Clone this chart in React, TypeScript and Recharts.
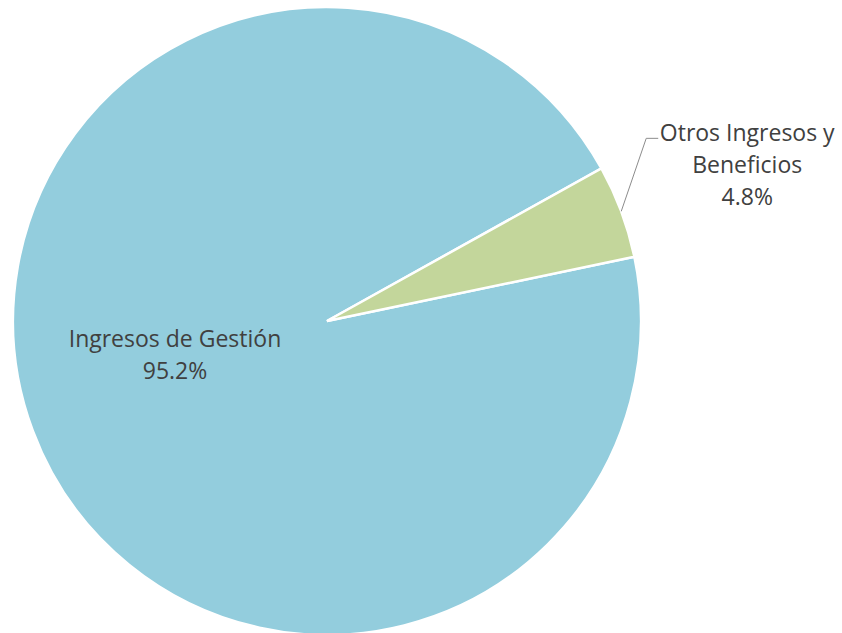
import { PieChart, Pie, Cell } from "recharts";

const categories = ["Ingresos de Gestión", "Otros Ingresos y Beneficios"];
const shares = [95.2, 4.8];
const labelLines = [["Ingresos de Gestión"], ["Otros Ingresos y", "Beneficios"]];

const COLORS = ["#93CDDD", "#C3D69B"];
const TEXT = "#404040";
const FONT = "'Open Sans', sans-serif";

const data = categories.map((name, i) => ({ name, value: shares[i] }));

const RAD = Math.PI / 180;

function renderLabel(props: any) {
  const { cx, cy, midAngle, outerRadius, index, value } = props;
  const lines = [...labelLines[index], `${value.toFixed(1)}%`];

  if (index === 0) {
    // inside the big slice, left of centre
    const x = cx - 152;
    const y0 = cy + 17;
    return (
      <text x={x} y={y0} textAnchor="middle" fill={TEXT} fontSize={23} fontFamily={FONT} dominantBaseline="central">
        {lines.map((l, i) => (
          <tspan key={i} x={x} y={y0 + i * 32}>
            {l}
          </tspan>
        ))}
      </text>
    );
  }

  // outside label with leader line
  const sx = cx + outerRadius * Math.cos(-midAngle * RAD);
  const sy = cy + outerRadius * Math.sin(-midAngle * RAD);
  const ex = sx + 25;
  const ey = sy - 73;
  const tx = ex + 101;
  const ty = ey - 6;
  return (
    <g>
      <polyline points={`${sx},${sy} ${ex},${ey} ${ex + 12},${ey}`} fill="none" stroke="#8C8C8C" strokeWidth={1} />
      <text x={tx} y={ty} textAnchor="middle" fill={TEXT} fontSize={23} fontFamily={FONT} dominantBaseline="central">
        {lines.map((l, i) => (
          <tspan key={i} x={tx} y={ty + i * 32}>
            {l}
          </tspan>
        ))}
      </text>
    </g>
  );
}

export default function App() {
  return (
    <div style={{ position: "absolute", left: 0, top: 0, width: 842, height: 633, background: "#fff" }}>
      <PieChart width={842} height={633} margin={{ top: 0, right: 0, bottom: 0, left: 0 }}>
        <Pie
          data={data}
          dataKey="value"
          nameKey="name"
          cx={327}
          cy={321}
          outerRadius={314}
          startAngle={11.8}
          endAngle={-348.2}
          stroke="#fff"
          strokeWidth={2.5}
          label={renderLabel}
          labelLine={false}
          isAnimationActive={false}
        >
          {data.map((d, i) => (
            <Cell key={d.name} fill={COLORS[i]} />
          ))}
        </Pie>
      </PieChart>
    </div>
  );
}
